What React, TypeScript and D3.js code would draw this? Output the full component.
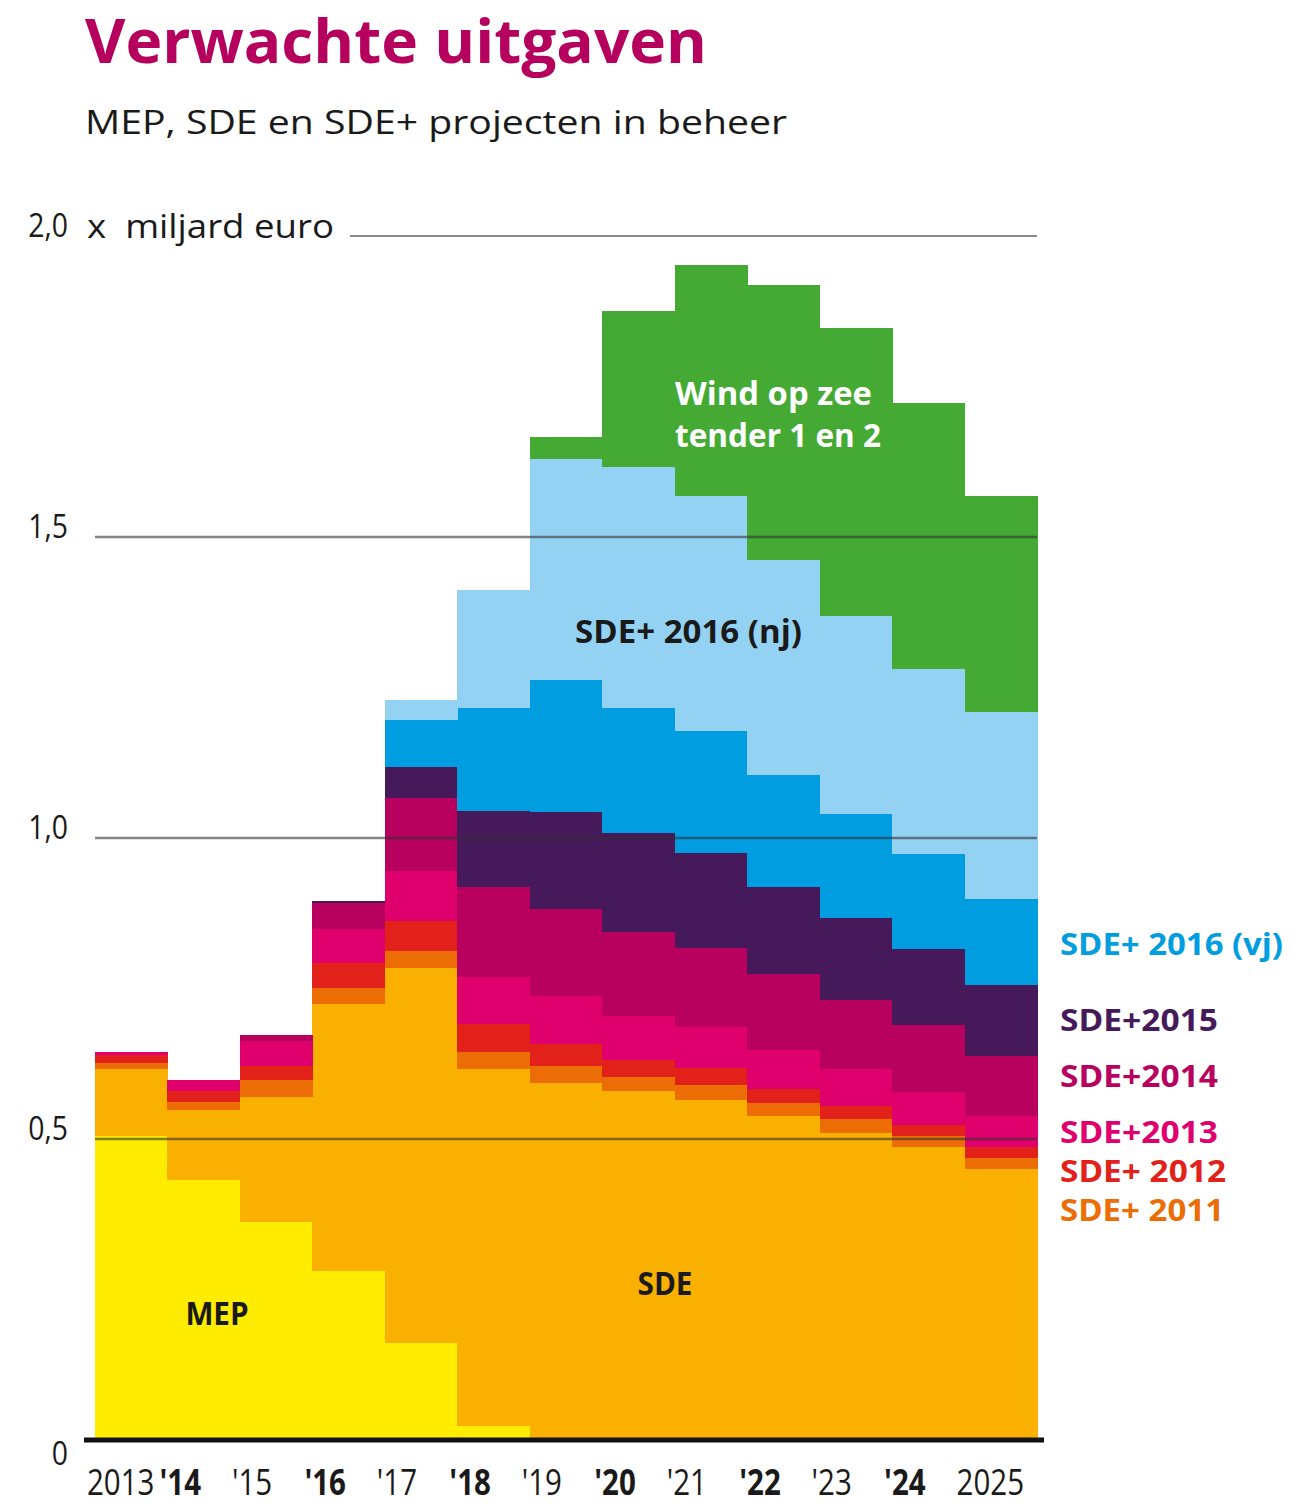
import React from "react";
import * as d3 from "d3";

const years = ["2013", "2014", "2015", "2016", "2017", "2018", "2019", "2020", "2021", "2022", "2023", "2024", "2025"];
const tickLabels = ["2013", "'14", "'15", "'16", "'17", "'18", "'19", "'20", "'21", "'22", "'23", "'24", "2025"];
const yTicks = [0, 0.5, 1.0, 1.5, 2.0];
const yTickLabels = ["0", "0,5", "1,0", "1,5", "2,0"];

const seriesKeys = ["MEP", "SDE", "SDE+ 2011", "SDE+ 2012", "SDE+2013", "SDE+2014", "SDE+2015", "SDE+ 2016 (vj)", "SDE+ 2016 (nj)", "Wind op zee"];
const mep = [0.505, 0.432, 0.362, 0.282, 0.161, 0.023, 0, 0, 0, 0, 0, 0, 0];
const sde = [0.112, 0.116, 0.209, 0.442, 0.623, 0.594, 0.594, 0.58, 0.566, 0.538, 0.51, 0.487, 0.45];
const sde2011 = [0.01, 0.014, 0.027, 0.028, 0.028, 0.028, 0.028, 0.023, 0.024, 0.023, 0.023, 0.019, 0.019];
const sde2012 = [0.013, 0.018, 0.024, 0.041, 0.05, 0.046, 0.037, 0.028, 0.028, 0.023, 0.023, 0.018, 0.018];
const sde2013 = [0.0045, 0.018, 0.042, 0.057, 0.084, 0.079, 0.079, 0.074, 0.069, 0.065, 0.061, 0.055, 0.051];
const sde2014 = [0, 0, 0.0095, 0.043, 0.121, 0.149, 0.144, 0.14, 0.13, 0.126, 0.115, 0.111, 0.101];
const sde2015 = [0, 0, 0, 0.003, 0.051, 0.126, 0.162, 0.163, 0.158, 0.144, 0.136, 0.126, 0.117];
const sde2016vj = [0, 0, 0, 0, 0.079, 0.172, 0.219, 0.208, 0.203, 0.186, 0.172, 0.158, 0.144];
const sde2016nj = [0, 0, 0, 0, 0.033, 0.195, 0.367, 0.4, 0.391, 0.358, 0.33, 0.307, 0.31];
const wind = [0, 0, 0, 0, 0, 0, 0.036, 0.26, 0.382, 0.455, 0.478, 0.441, 0.358];

const seriesValues = [mep, sde, sde2011, sde2012, sde2013, sde2014, sde2015, sde2016vj, sde2016nj, wind];
const colors = ["#ffec00", "#f9b000", "#ec6d05", "#e2211b", "#e0006d", "#b8005e", "#461a5a", "#009ee0", "#94d2f4", "#45aa34"];

const rows = years.map((yr, i) => {
  const r: any = { year: yr };
  seriesKeys.forEach((k, j) => (r[k] = seriesValues[j][i]));
  return r;
});

const FONT = "'Open Sans', 'Noto Sans', sans-serif";

function T({ x, y, size, weight = 400, fill = "#1a1a1a", anchor = "start", sx = 0.86, children }: any) {
  return (
    <text
      transform={`translate(${x},${y}) scale(${sx},1)`}
      fontSize={size}
      fontWeight={weight}
      fill={fill}
      textAnchor={anchor}
      fontFamily={FONT}
      style={{ whiteSpace: "pre" }}
    >
      {children}
    </text>
  );
}

export default function App() {
  const W = 1299;
  const H = 1510;
  const x = d3.scaleBand<string>().domain(years).range([95, 1037]).padding(0);
  const y = d3.scaleLinear().domain([0, 2]).range([1440, 236]);
  const stack = d3.stack<any>().keys(seriesKeys);
  const layers = stack(rows);

  return (
    <svg width={W} height={H} style={{ position: "absolute", left: 0, top: 0, background: "#fff" }}>
      <rect x={0} y={0} width={W} height={H} fill="#fff" />
      {/* title */}
      <text x={85} y={63} fontSize={60} fontWeight={700} fill="#b5005e" fontFamily={FONT} textLength={622} lengthAdjust="spacingAndGlyphs">
        Verwachte uitgaven
      </text>
      <text x={85} y={134} fontSize={33} fontWeight={400} fill="#1a1a1a" fontFamily={FONT} textLength={702} lengthAdjust="spacingAndGlyphs">
        MEP, SDE en SDE+ projecten in beheer
      </text>

      {/* bars */}
      <g shapeRendering="crispEdges">
        {layers.map((layer, li) =>
          layer.map((d, i) => {
            const h = y(d[0]) - y(d[1]);
            if (h <= 0) return null;
            return (
              <rect
                key={`${li}-${i}`}
                x={x(years[i])!}
                y={y(d[1])}
                width={x.bandwidth() + 0.5}
                height={h + 0.3}
                fill={colors[li]}
              />
            );
          })
        )}
      </g>

      {/* gridlines */}
      {yTicks.map((t, i) => {
        if (t === 0) return null;
        if (t === 2) return <line key={i} x1={350} x2={1037} y1={y(t)} y2={y(t)} stroke="#8a8a8a" strokeWidth={2} />;
        return <line key={i} x1={95} x2={1037} y1={y(t)} y2={y(t)} stroke="#333" strokeOpacity={0.6} strokeWidth={2.5} />;
      })}
      {/* axis */}
      <line x1={84} x2={1044} y1={y(0)} y2={y(0)} stroke="#111" strokeWidth={5} />

      {/* y tick labels */}
      {yTicks.map((t, i) => (
        <T key={i} x={68} y={t === 0 ? y(0) + 25 : y(t) + 1} size={33} anchor="end">
          {yTickLabels[i]}
        </T>
      ))}
      <text x={87} y={238} fontSize={33} fill="#1a1a1a" fontFamily={FONT} textLength={247} lengthAdjust="spacingAndGlyphs" style={{ whiteSpace: "pre" }}>
        {"x  miljard euro"}
      </text>

      {/* x tick labels */}
      {tickLabels.map((lab, i) => (
        <T key={i} x={x(years[i])! - 8} y={1495} size={36} weight={i % 2 === 1 ? 700 : 400} sx={0.82}>
          {lab}
        </T>
      ))}

      {/* in-chart labels */}
      <T x={217} y={1325} size={33} weight={700} anchor="middle" sx={0.9}>MEP</T>
      <T x={665} y={1295} size={33} weight={700} anchor="middle" sx={0.9}>SDE</T>
      <text x={575} y={643} fontSize={32} fontWeight={700} fill="#1a1a1a" fontFamily={FONT} textLength={227} lengthAdjust="spacingAndGlyphs">
        SDE+ 2016 (nj)
      </text>
      <text x={675} y={405} fontSize={32} fontWeight={700} fill="#fff" fontFamily={FONT} textLength={197} lengthAdjust="spacingAndGlyphs">
        Wind op zee
      </text>
      <text x={675} y={447} fontSize={32} fontWeight={700} fill="#fff" fontFamily={FONT} textLength={206} lengthAdjust="spacingAndGlyphs">
        tender 1 en 2
      </text>

      {/* right legend */}
      <text x={1060} y={955} fontSize={31} fontWeight={700} fill={colors[7]} fontFamily={FONT} textLength={223} lengthAdjust="spacingAndGlyphs">
        SDE+ 2016 (vj)
      </text>
      <text x={1060} y={1031} fontSize={31} fontWeight={700} fill={colors[6]} fontFamily={FONT} textLength={158} lengthAdjust="spacingAndGlyphs">
        SDE+2015
      </text>
      <text x={1060} y={1087} fontSize={31} fontWeight={700} fill={colors[5]} fontFamily={FONT} textLength={158} lengthAdjust="spacingAndGlyphs">
        SDE+2014
      </text>
      <text x={1060} y={1143} fontSize={31} fontWeight={700} fill={colors[4]} fontFamily={FONT} textLength={158} lengthAdjust="spacingAndGlyphs">
        SDE+2013
      </text>
      <text x={1060} y={1182} fontSize={31} fontWeight={700} fill={colors[3]} fontFamily={FONT} textLength={166} lengthAdjust="spacingAndGlyphs">
        SDE+ 2012
      </text>
      <text x={1060} y={1221} fontSize={31} fontWeight={700} fill={colors[2]} fontFamily={FONT} textLength={164} lengthAdjust="spacingAndGlyphs">
        SDE+ 2011
      </text>
    </svg>
  );
}
